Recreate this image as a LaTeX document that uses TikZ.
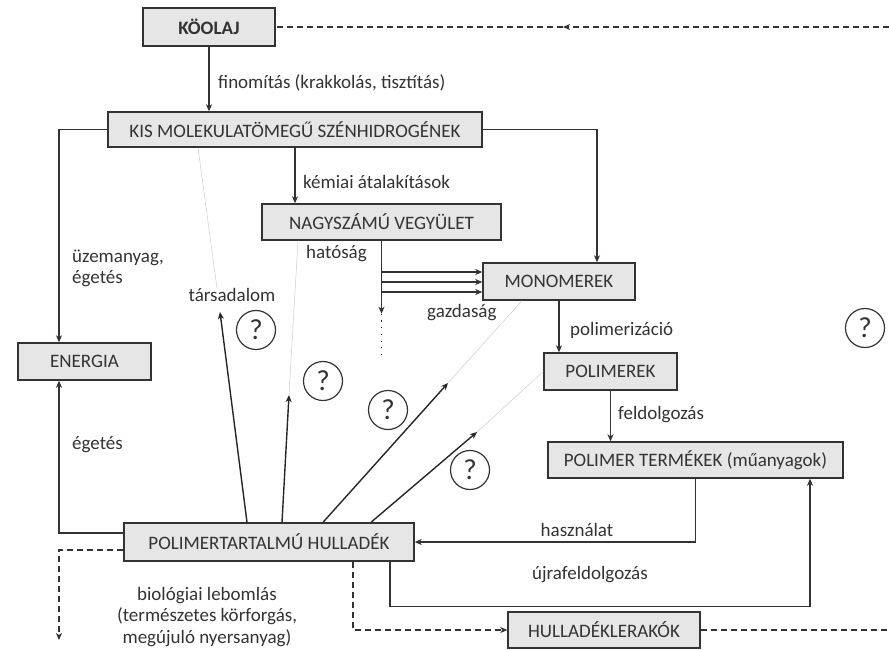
\documentclass[tikz,border=0pt]{standalone}
\usepackage{fontspec}
\setmainfont{Carlito}
\usetikzlibrary{arrows.meta}
\definecolor{ink}{HTML}{333333}
\definecolor{boxfill}{HTML}{E6E6E6}

\begin{document}
\begin{tikzpicture}[x=1pt,y=-1pt,font=\fontsize{19}{23}\selectfont,
  every node/.style={text=ink},
  box/.style={draw=ink,fill=boxfill,line width=1.4pt,inner sep=0pt},
  lbl/.style={inner sep=0pt},
  link/.style={draw=ink,line width=1.2pt},
  arr/.style={link,-{Stealth[length=7pt,width=6pt,inset=2pt]}},
  dashline/.style={dash pattern=on 6pt off 4pt},
  faint/.style={draw=black!20,line width=0.5pt},
  qmark/.style={draw=ink,circle,line width=1.2pt,minimum size=39pt,inner sep=0pt,font=\fontsize{29}{29}\selectfont}]
\useasboundingbox (0,0) rectangle (889,649);

% boxes
\node[box,minimum width=132pt,minimum height=38pt,font=\fontsize{19}{23}\selectfont\bfseries] (koolaj) at (209,27) {KÖOLAJ};
\node[box,minimum width=374pt,minimum height=35pt] (kis) at (295,129.5) {KIS MOLEKULATÖMEGŰ SZÉNHIDROGÉNEK};
\node[box,minimum width=239pt,minimum height=36pt] (nagy) at (381.5,222) {NAGYSZÁMÚ VEGYÜLET};
\node[box,minimum width=152pt,minimum height=37pt] (mono) at (559,281.5) {MONOMEREK};
\node[box,minimum width=133pt,minimum height=37pt] (poli) at (610.5,371.5) {POLIMEREK};
\node[box,minimum width=295pt,minimum height=36pt] (termek) at (695.5,460) {POLIMER TERMÉKEK (műanyagok)};
\node[box,minimum width=133pt,minimum height=37pt] (energia) at (84.5,361.5) {ENERGIA};
\node[box,minimum width=290pt,minimum height=38pt] (hull) at (269,542) {POLIMERTARTALMÚ HULLADÉK};
\node[box,minimum width=192pt,minimum height=36pt] (lerako) at (604,630) {HULLADÉKLERAKÓK};

% labels
\node[lbl,anchor=west] (lfin) at (218,83) {finomítás (krakkolás, tisztítás)};
\node[lbl,anchor=west,align=left] (luzem) at (72,268) {üzemanyag,\\[-2pt]égetés};
\node[lbl,anchor=west] (lkem) at (303,182) {kémiai átalakítások};
\node[lbl] (ltars) at (232,295) {társadalom};
\node[lbl,anchor=west] (lhat) at (306,254) {hatóság};
\node[lbl,anchor=west] (lgazd) at (427,313) {gazdaság};
\node[lbl,anchor=west] (lpol) at (570,330) {polimerizáció};
\node[lbl,anchor=west] (lfel) at (618,415) {feldolgozás};
\node[lbl] (lhasz) at (577,530) {használat};
\node[lbl] (lujra) at (590,575) {újrafeldolgozás};
\node[lbl,anchor=west] (leget) at (72,445) {égetés};
\node[lbl,align=center,font=\fontsize{19}{21.5}\selectfont] (lbio) at (207,617) {biológiai lebomlás\\(természetes körforgás,\\megújuló nyersanyag)};

\foreach \n/\p in {q1/{256,330},q2/{323,381},q3/{388,410},q4/{470,470},q5/{865,328}}
  \node[qmark] (\n) at (\p) {?};

% main flow
\coordinate (eL) at (59,0);
\draw[arr] (koolaj.south) -- (kis.north -| koolaj.south);
\draw[arr] (kis.west) -| (eL |- energia.north);
\draw[arr] (kis.east) -| ([xshift=38pt]mono.north);
\draw[arr] (kis.south) -- (kis.south |- nagy.north);
\draw[arr] (nagy.south) -- ++(0,73) coordinate (nd);
\draw[link,dash pattern=on 1.2pt off 5.5pt] (nd) -- ++(0,44) coordinate (ndots);
\foreach \dy in {272,282,292}
  \draw[arr] (nagy.south |- 0,\dy) -- (mono.west |- 0,\dy);
\draw[arr] (mono.south) -- (mono.south |- poli.north);
\draw[arr] (poli.south) -- (poli.south |- termek.north);
\draw[arr] (termek.south) |- (hull.east);
\draw[arr] ([xshift=121pt]hull.south) -- ++(0,45) -| ([xshift=114.5pt]termek.south);
\draw[arr] ([yshift=9pt]hull.west) -| (eL |- energia.south);

% dashed loops
\coordinate (bio) at (59,640);
\coordinate (edgeB) at (889,630);
\coordinate (edgeT) at (889,27);
\coordinate (midT) at (563,27);
\draw[arr,dashline] ([yshift=-8pt]hull.west) -| (bio);
\draw[arr,dashline] ([xshift=84pt]hull.south) |- (lerako.west);
\draw[link,dashline] (lerako.east) -- (edgeB);
\draw[arr,dashline] (edgeT) -- (midT);
\draw[link,dashline] (midT) -- (koolaj.east);

% arrows out of the waste
\coordinate (t1) at (220,312);
\coordinate (t2) at (289,395);
\coordinate (t3) at (448,383);
\coordinate (t4) at (477,432);
\foreach \dx/\t in {-22/t1,13/t2,54/t3,102/t4}
  \draw[arr,draw=black!85,line width=1.4pt] ([xshift=\dx pt]hull.north) -- (\t);
\draw[faint] ([xshift=-97pt]kis.south) -- ([xshift=-15pt]ltars.north);
\draw[faint] ([xshift=-83.5pt]nagy.south) -- (t2);
\draw[faint] (t3) -- ([xshift=-37pt]mono.south);
\draw[faint] (t4) -- (poli.west);
\end{tikzpicture}
\end{document}
